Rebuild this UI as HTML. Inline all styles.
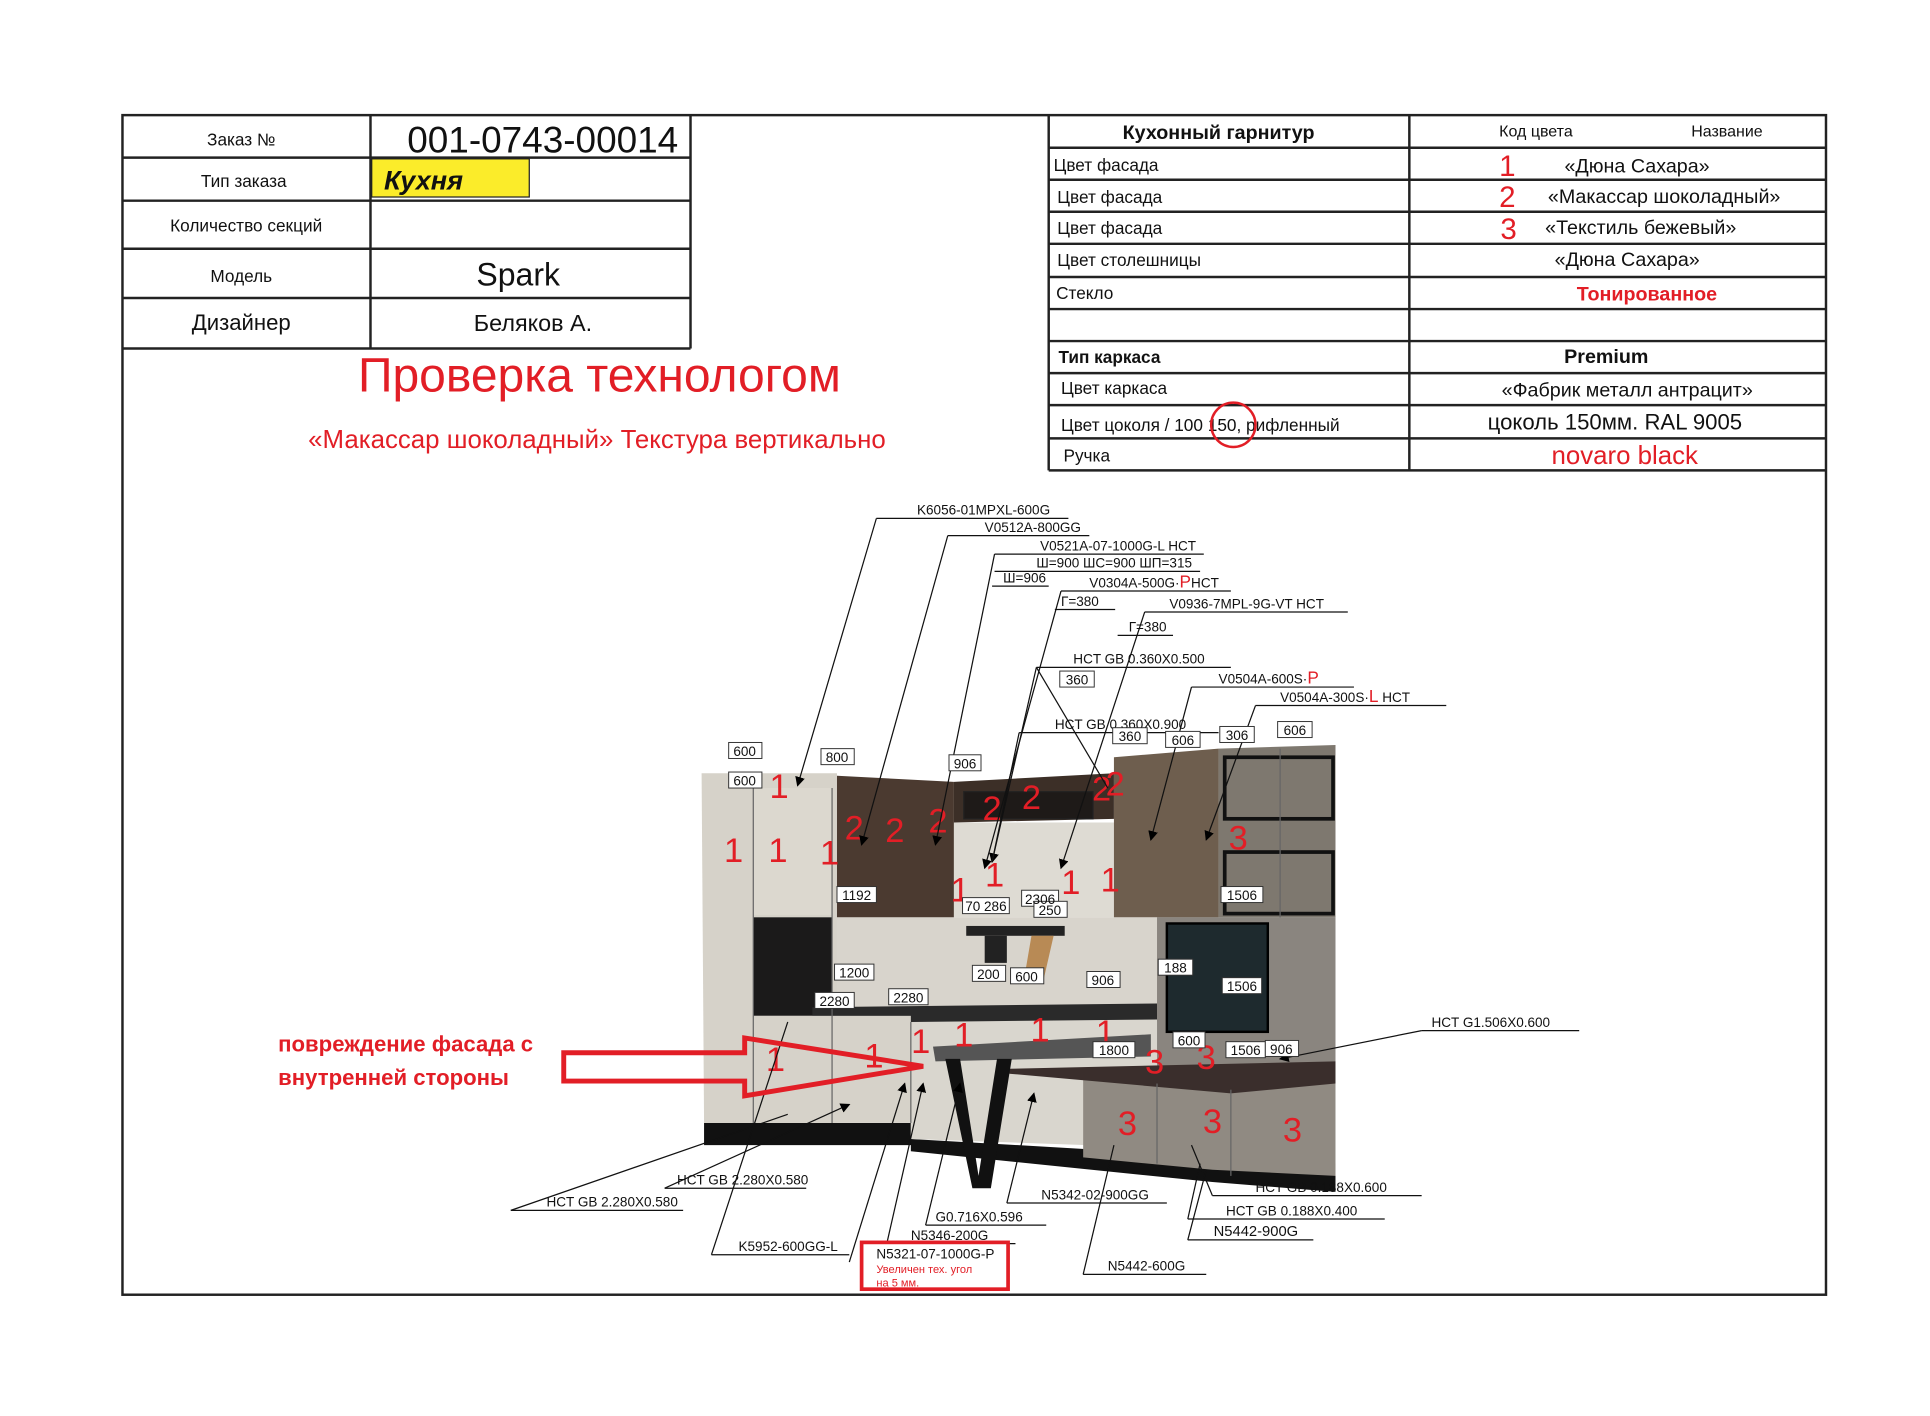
<!DOCTYPE html>
<html><head><meta charset="utf-8"><style>
html,body{margin:0;padding:0;background:#fff}
svg{display:block}
text{font-family:"Liberation Sans",sans-serif}
</style></head><body>
<svg width="1930" height="1416" viewBox="0 0 1568 1150" preserveAspectRatio="none" xmlns="http://www.w3.org/2000/svg">
<defs><marker id="ar" markerWidth="8" markerHeight="8" refX="7" refY="4" orient="auto" markerUnits="userSpaceOnUse"><path d="M0,0 L8,4 L0,8 z" fill="#000"/></marker></defs>
<rect width="1568" height="1150" fill="#fff"/>
<!-- frame -->
<rect x="99.5" y="93.5" width="1384" height="958" fill="none" stroke="#222" stroke-width="2"/>
<!-- left table -->
<g stroke="#222" stroke-width="2" fill="none">
<line x1="301" y1="93" x2="301" y2="283"/><line x1="561" y1="93" x2="561" y2="283"/>
<line x1="99" y1="128" x2="561" y2="128"/><line x1="99" y1="163" x2="561" y2="163"/>
<line x1="99" y1="202" x2="561" y2="202"/><line x1="99" y1="242" x2="561" y2="242"/>
<line x1="99" y1="283" x2="561" y2="283"/>
</g>
<rect x="302" y="129" width="128" height="31" fill="#fbec2a" stroke="#222" stroke-width="1"/>
<g font-size="14" fill="#111" text-anchor="middle">
<text x="196" y="118">Заказ №</text><text x="198" y="152">Тип заказа</text>
<text x="200" y="188">Количество секций</text><text x="196" y="229">Модель</text>
</g>
<text x="196" y="268" font-size="18" text-anchor="middle" fill="#111">Дизайнер</text>
<text x="551" y="124" font-size="30" text-anchor="end" fill="#111">001-0743-00014</text>
<text x="312" y="154" font-size="22" font-weight="bold" font-style="italic" fill="#111">Кухня</text>
<text x="421" y="232" font-size="26" text-anchor="middle" fill="#111">Spark</text>
<text x="433" y="269" font-size="19" text-anchor="middle" fill="#111">Беляков А.</text>
<text x="487" y="318" font-size="39" text-anchor="middle" fill="#e21e26">Проверка технологом</text>
<text x="485" y="364" font-size="21" text-anchor="middle" fill="#e21e26">«Макассар шоколадный» Текстура вертикально</text>
<!-- right table -->
<g stroke="#222" stroke-width="2" fill="none">
<line x1="852" y1="93" x2="852" y2="382"/><line x1="1145" y1="93" x2="1145" y2="382"/>
<line x1="852" y1="382" x2="1483" y2="382"/>
<line x1="852" y1="120" x2="1483" y2="120"/><line x1="852" y1="146" x2="1483" y2="146"/>
<line x1="852" y1="172" x2="1483" y2="172"/><line x1="852" y1="198" x2="1483" y2="198"/>
<line x1="852" y1="225" x2="1483" y2="225"/><line x1="852" y1="251" x2="1483" y2="251"/>
<line x1="852" y1="277" x2="1483" y2="277"/><line x1="852" y1="303" x2="1483" y2="303"/>
<line x1="852" y1="329" x2="1483" y2="329"/><line x1="852" y1="356" x2="1483" y2="356"/>
</g>
<text x="990" y="113" font-size="16" font-weight="bold" text-anchor="middle" fill="#111">Кухонный гарнитур</text>
<g font-size="13" fill="#111"><text x="1218" y="111">Код цвета</text><text x="1374" y="111">Название</text></g>
<g font-size="14" fill="#111">
<text x="856" y="139">Цвет фасада</text><text x="859" y="165">Цвет фасада</text><text x="859" y="190">Цвет фасада</text>
<text x="859" y="216">Цвет столешницы</text><text x="858" y="243">Стекло</text>
<text x="860" y="295" font-weight="bold">Тип каркаса</text><text x="862" y="320">Цвет каркаса</text>
<text x="862" y="350">Цвет цоколя / 100  150, рифленный</text><text x="864" y="375">Ручка</text>
</g>
<circle cx="1002" cy="345" r="18" fill="none" stroke="#e21e26" stroke-width="2"/>
<g font-size="24" fill="#e21e26"><text x="1218" y="143">1</text><text x="1218" y="168">2</text><text x="1219" y="194">3</text></g>
<g font-size="16" fill="#111" text-anchor="middle">
<text x="1330" y="140">«Дюна Сахара»</text><text x="1352" y="165">«Макассар шоколадный»</text>
<text x="1333" y="190">«Текстиль бежевый»</text><text x="1322" y="216">«Дюна Сахара»</text>
<text x="1305" y="295" font-weight="bold">Premium</text><text x="1322" y="322">«Фабрик металл антрацит»</text>
<text x="1312" y="349" font-size="18">цоколь 150мм. RAL 9005</text>
</g>
<text x="1338" y="244" font-size="16" font-weight="bold" text-anchor="middle" fill="#e21e26">Тонированное</text>
<text x="1320" y="377" font-size="21" text-anchor="middle" fill="#e21e26">novaro black</text>

<!-- kitchen -->
<polygon points="572,912 740,912 740,925 1085,945 1085,968 985,960 740,935 740,930 572,930" fill="#111"/>
<polygon points="570,628 680,628 680,912 572,912" fill="#d6d2c9"/>
<rect x="612" y="745" width="64" height="80" fill="#1b1a1a"/>
<rect x="612" y="640" width="64" height="103" fill="#dcd8cf"/>
<polygon points="680,630 775,635 775,745 680,745" fill="#4b3a30"/>
<polygon points="775,635 905,628 905,665 775,668" fill="#3c2f27"/>
<rect x="783" y="643" width="105" height="22" fill="#1e1a18" stroke="#222"/>
<rect x="775" y="668" width="130" height="77" fill="#dedbd3"/>
<polygon points="905,615 990,608 990,745 905,745" fill="#6e5e4e"/>
<polygon points="990,608 1085,605 1085,745 990,745" fill="#7e786f"/>
<g fill="none" stroke="#111" stroke-width="3"><rect x="995" y="615" width="88" height="50"/><rect x="995" y="692" width="88" height="50"/></g>
<rect x="680" y="745" width="260" height="75" fill="#d8d4cc"/>
<rect x="940" y="745" width="145" height="125" fill="#8a857f"/>
<rect x="948" y="750" width="82" height="88" fill="#1e2a2e" stroke="#000" stroke-width="2"/>
<rect x="785" y="752" width="80" height="8" fill="#222"/><rect x="800" y="760" width="18" height="22" fill="#222"/>
<polygon points="838,760 856,760 848,795 832,795" fill="#b88a55"/>
<polygon points="660,818 940,815 940,830 660,832" fill="#2a2a2a"/>
<rect x="572" y="825" width="168" height="87" fill="#d6d2c9"/>
<polygon points="740,830 940,828 940,932 740,925" fill="#d9d6ce"/>
<polygon points="880,870 1085,868 1085,955 985,950 880,940" fill="#908a82"/>
<polygon points="820,868 1085,862 1085,880 1000,888 820,872" fill="#3a2e2c"/>
<polygon points="758,850 935,840 935,858 760,862" fill="#555"/>
<polygon points="768,860 780,860 795,955 810,860 822,860 805,965 790,965" fill="#111"/>
<g stroke="#666" stroke-width="1"><line x1="612" y1="640" x2="612" y2="912"/><line x1="676" y1="640" x2="676" y2="912"/><line x1="740" y1="830" x2="740" y2="912"/><line x1="1040" y1="608" x2="1040" y2="745"/><line x1="940" y1="880" x2="940" y2="945"/><line x1="1000" y1="885" x2="1000" y2="955"/></g>

<!-- red numbers -->
<g font-size="28" fill="#e21e26" text-anchor="middle">
<text x="633" y="648">1</text><text x="596" y="700">1</text><text x="632" y="700">1</text><text x="674" y="702">1</text>
<text x="780" y="732">1</text><text x="808" y="720">1</text><text x="870" y="726">1</text><text x="902" y="724">1</text>
<text x="630" y="870">1</text><text x="710" y="867">1</text><text x="748" y="855">1</text><text x="783" y="850">1</text><text x="845" y="846">1</text><text x="898" y="848">1</text>
<text x="694" y="682">2</text><text x="727" y="684">2</text><text x="762" y="676">2</text><text x="806" y="666">2</text><text x="838" y="657">2</text><text x="895" y="650">2</text><text x="906" y="646">2</text>
<text x="1006" y="690">3</text><text x="938" y="872">3</text><text x="980" y="868">3</text><text x="916" y="922">3</text><text x="985" y="920">3</text><text x="1050" y="927">3</text>
</g>

<!-- leader lines -->
<g stroke="#111" stroke-width="1" fill="none">
<line x1="712" y1="421" x2="868" y2="421"/><line x1="712" y1="421" x2="648" y2="638" marker-end="url(#ar)"/>
<line x1="770" y1="435" x2="885" y2="435"/><line x1="770" y1="435" x2="700" y2="686" marker-end="url(#ar)"/>
<line x1="808" y1="450" x2="978" y2="450"/><line x1="808" y1="450" x2="760" y2="686" marker-end="url(#ar)"/>
<line x1="808" y1="464" x2="975" y2="464"/><line x1="806" y1="476" x2="852" y2="476"/>
<line x1="862" y1="480" x2="1000" y2="480"/><line x1="862" y1="480" x2="800" y2="705" marker-end="url(#ar)"/>
<line x1="857" y1="495" x2="906" y2="495"/>
<line x1="930" y1="497" x2="1095" y2="497"/><line x1="930" y1="497" x2="862" y2="705" marker-end="url(#ar)"/>
<line x1="908" y1="516" x2="953" y2="516"/>
<line x1="842" y1="542" x2="1000" y2="542"/><line x1="842" y1="542" x2="806" y2="700" marker-end="url(#ar)"/><line x1="842" y1="542" x2="900" y2="640"/>
<line x1="968" y1="558" x2="1100" y2="558"/><line x1="968" y1="558" x2="935" y2="682" marker-end="url(#ar)"/>
<line x1="1020" y1="573" x2="1175" y2="573"/><line x1="1020" y1="573" x2="980" y2="682" marker-end="url(#ar)"/>
<line x1="828" y1="595" x2="990" y2="595"/><line x1="828" y1="595" x2="806" y2="700"/>
<line x1="1155" y1="837" x2="1283" y2="837"/><line x1="1155" y1="837" x2="1040" y2="860" marker-end="url(#ar)"/>
<line x1="540" y1="965" x2="655" y2="965"/><line x1="540" y1="965" x2="690" y2="897" marker-end="url(#ar)"/>
<line x1="415" y1="983" x2="555" y2="983"/><line x1="415" y1="983" x2="640" y2="905"/>
<line x1="578" y1="1019" x2="690" y2="1019"/><line x1="578" y1="1019" x2="640" y2="830"/>
<line x1="690" y1="1025" x2="735" y2="880" marker-end="url(#ar)"/>
<line x1="740" y1="1010" x2="825" y2="1010"/><line x1="720" y1="1012" x2="750" y2="880" marker-end="url(#ar)"/>
<line x1="752" y1="995" x2="850" y2="995"/><line x1="752" y1="995" x2="780" y2="880" marker-end="url(#ar)"/>
<line x1="818" y1="977" x2="948" y2="977"/><line x1="818" y1="977" x2="840" y2="888" marker-end="url(#ar)"/>
<line x1="880" y1="1035" x2="980" y2="1035"/><line x1="880" y1="1035" x2="905" y2="930"/>
<line x1="985" y1="971" x2="1155" y2="971"/><line x1="985" y1="971" x2="968" y2="930"/>
<line x1="965" y1="990" x2="1125" y2="990"/><line x1="965" y1="990" x2="975" y2="945"/>
<line x1="965" y1="1007" x2="1067" y2="1007"/><line x1="965" y1="1007" x2="980" y2="950"/>
</g>
<g font-size="11" fill="#111">
<text x="745" y="418">K6056-01MPXL-600G</text><text x="800" y="432">V0512A-800GG</text>
<text x="845" y="447">V0521A-07-1000G-L HCT</text><text x="842" y="461">Ш=900 ШС=900 ШП=315</text>
<text x="815" y="473">Ш=906</text><text x="885" y="477">V0304A-500G·<tspan fill="#e21e26" font-size="14">P</tspan>HCT</text>
<text x="862" y="492">Г=380</text><text x="950" y="494">V0936-7MPL-9G-VT HCT</text><text x="917" y="513">Г=380</text>
<text x="872" y="539">HCT GB 0.360X0.500</text><text x="990" y="555">V0504A-600S·<tspan fill="#e21e26" font-size="14">P</tspan></text>
<text x="1040" y="570">V0504A-300S·<tspan fill="#e21e26" font-size="14">L</tspan>  HCT</text>
<text x="857" y="592">HCT GB 0.360X0.900</text>
<text x="1163" y="834">HCT G1.506X0.600</text><text x="550" y="962">HCT GB 2.280X0.580</text>
<text x="444" y="980">HCT GB 2.280X0.580</text><text x="600" y="1016">K5952-600GG-L</text>
<text x="740" y="1007">N5346-200G</text><text x="760" y="992">G0.716X0.596</text>
<text x="846" y="974">N5342-02-900GG</text><text x="900" y="1032">N5442-600G</text>
<text x="1020" y="968">HCT GB 0.188X0.600</text><text x="996" y="987">HCT GB 0.188X0.400</text>
<text x="986" y="1004" font-size="12">N5442-900G</text>
</g>
<rect x="700" y="1009" width="119" height="38" fill="#fff" stroke="#e21e26" stroke-width="3"/>
<text x="712" y="1022" font-size="11" fill="#111">N5321-07-1000G-P</text>
<text x="712" y="1034" font-size="9" fill="#e21e26">Увеличен тех. угол</text>
<text x="712" y="1045" font-size="9" fill="#e21e26">на 5 мм.</text>

<!-- dimension boxes -->
<g font-size="11" fill="#111" text-anchor="middle">
<g stroke="#333" stroke-width="0.8" fill="#fff">
<rect x="592" y="603" width="27" height="13"/><rect x="592" y="627" width="27" height="13"/><rect x="667" y="608" width="27" height="13"/>
<rect x="771" y="613" width="26" height="13"/><rect x="861" y="545" width="28" height="13"/><rect x="904" y="591" width="28" height="13"/>
<rect x="947" y="594" width="28" height="13"/><rect x="991" y="590" width="28" height="13"/><rect x="1038" y="586" width="28" height="13"/>
<rect x="680" y="720" width="32" height="13"/><rect x="782" y="729" width="38" height="13"/><rect x="830" y="723" width="30" height="13"/>
<rect x="840" y="732" width="27" height="13"/><rect x="678" y="783" width="32" height="13"/><rect x="790" y="784" width="27" height="13"/>
<rect x="821" y="786" width="27" height="13"/><rect x="883" y="789" width="27" height="13"/><rect x="941" y="779" width="28" height="13"/>
<rect x="993" y="794" width="32" height="13"/><rect x="662" y="806" width="32" height="13"/><rect x="722" y="803" width="32" height="13"/>
<rect x="888" y="846" width="34" height="13"/><rect x="953" y="838" width="26" height="13"/><rect x="996" y="846" width="32" height="13"/>
<rect x="1028" y="845" width="27" height="13"/><rect x="992" y="720" width="34" height="13"/>
</g>
<text x="605" y="614">600</text><text x="605" y="638">600</text><text x="680" y="619">800</text><text x="784" y="624">906</text>
<text x="875" y="556">360</text><text x="918" y="602">360</text><text x="961" y="605">606</text><text x="1005" y="601">306</text><text x="1052" y="597">606</text>
<text x="696" y="731">1192</text><text x="801" y="740">70 286</text><text x="845" y="734">2306</text><text x="853" y="743">250</text>
<text x="694" y="794">1200</text><text x="803" y="795">200</text><text x="834" y="797">600</text><text x="896" y="800">906</text>
<text x="955" y="790">188</text><text x="1009" y="805">1506</text><text x="678" y="817">2280</text><text x="738" y="814">2280</text>
<text x="905" y="857">1800</text><text x="966" y="849">600</text><text x="1012" y="857">1506</text><text x="1041" y="856">906</text><text x="1009" y="731">1506</text>
</g>

<!-- damage annotation -->
<text x="226" y="854" font-size="18" font-weight="bold" fill="#e21e26">повреждение фасада с</text>
<text x="226" y="881" font-size="18" font-weight="bold" fill="#e21e26">внутренней стороны</text>
<polygon points="458,855 605,855 605,843 750,866 605,890 605,878 458,878" fill="none" stroke="#e21e26" stroke-width="4"/>
</svg>
</body></html>
